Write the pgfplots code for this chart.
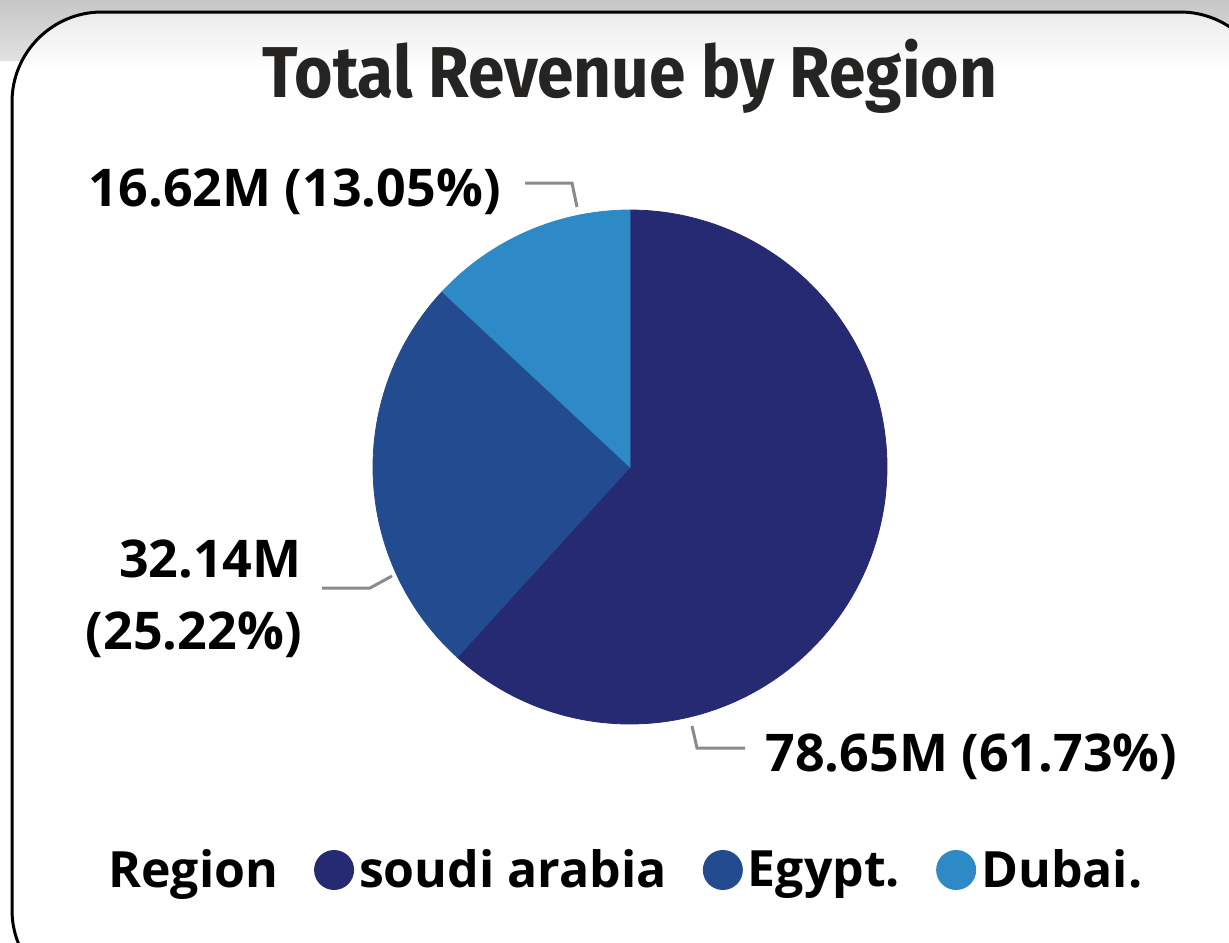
\documentclass[border=0pt]{standalone}
\usepackage{pgfplots}
\usepackage{pgfplotstable}
\pgfplotsset{compat=1.18}
\usepackage{fontspec}
\setmainfont{Open Sans}
\newfontfamily\titlefont{Fira Sans}

\definecolor{saudi}{HTML}{262A73}
\definecolor{egypt}{HTML}{234B8F}
\definecolor{dubai}{HTML}{2E8AC6}
\definecolor{titlegray}{HTML}{252423}
\definecolor{leader}{HTML}{8A8A8A}

% revenue by region, millions
\pgfplotstableread{
region value
saudi 78.65
egypt 32.14
dubai 16.62
}\revtable

\begin{document}
\begin{tikzpicture}[x=0.5pt,y=-0.5pt]
\pgfplotstablegetelem{0}{value}\of\revtable \let\va\pgfplotsretval
\pgfplotstablegetelem{1}{value}\of\revtable \let\vb\pgfplotsretval
\pgfplotstablegetelem{2}{value}\of\revtable \let\vc\pgfplotsretval
\pgfmathsetmacro\tot{\va+\vb+\vc}
\pgfmathsetmacro\aone{90-\va/\tot*360}
\pgfmathsetmacro\atwo{\aone-\vb/\tot*360}
\pgfmathsetmacro\athree{\atwo-\vc/\tot*360}

\path[use as bounding box] (0,0) rectangle (1229,942);
\begin{scope}
  \clip (0,0) rectangle (1229,942);
  \shade[top color=black!22, bottom color=black!12] (0,0) rectangle (1229,60);
  \fill[white, rounded corners=45] (12,12) rectangle (1270,1000);
  \begin{scope}
    \clip[rounded corners=45] (12,12) rectangle (1270,1000);
    \shade[top color=black!8, bottom color=white] (12,12) rectangle (1280,70);
  \end{scope}
  \draw[black, line width=1.5pt, rounded corners=45] (12,12) rectangle (1270,1000);
\end{scope}

\node[anchor=base, inner sep=0pt, text=titlegray]
  at (630,97) {\titlefont\bfseries\fontsize{36}{40}\selectfont
  \scalebox{0.915}[1]{Total Revenue by Region}};

\coordinate (pc) at (630,467);
\begin{axis}[
  at={(pc)}, anchor=origin,
  x=128.5pt, y=128.5pt,
  xmin=-1, xmax=1, ymin=-1, ymax=1,
  hide axis, clip=false,
  legend columns=-1,
  legend style={draw=none, fill=none, at={(0.486,-0.284)}, anchor=center,
    font=\bfseries\fontsize{25}{28}\selectfont,
    nodes={inner xsep=0pt, inner ysep=2pt},
    /tikz/every odd column/.append style={column sep=2.5pt},
    /tikz/every even column/.append style={column sep=18pt}},
  legend image code/.code={\fill[draw=none] (10pt,0pt) circle (10pt);},
]
\addlegendimage{empty legend}
\addlegendentry{Region\hspace{7.5pt}}
\addlegendimage{fill=saudi, draw=none}
\addlegendentry{soudi arabia}
\addlegendimage{fill=egypt, draw=none}
\addlegendentry{Egypt.}
\addlegendimage{fill=dubai, draw=none}
\addlegendentry{Dubai.}

\addplot[fill=saudi, draw=saudi, domain=\aone:90, samples=150, variable=\t]
  ({cos(\t)},{sin(\t)}) -- (axis cs:0,0) -- cycle;
\addplot[fill=egypt, draw=egypt, domain=\atwo:\aone, samples=80, variable=\t]
  ({cos(\t)},{sin(\t)}) -- (axis cs:0,0) -- cycle;
\addplot[fill=dubai, draw=dubai, domain=\athree:\atwo, samples=50, variable=\t]
  ({cos(\t)},{sin(\t)}) -- (axis cs:0,0) -- cycle;
\end{axis}

% leader lines
\draw[leader, line width=1.5pt] (525,183) -- (572,183) -- (577,207);
\draw[leader, line width=1.5pt] (322,588) -- (370,588) -- (392,576);
\draw[leader, line width=1.5pt] (692,726) -- (697,748) -- (745,748);

% data labels
\begin{scope}[every node/.style={inner sep=0pt, font=\bfseries\fontsize{26}{30}\selectfont}]
\node[anchor=base east] at (501,206) {16.62M (13.05\%)};
\node[anchor=base east] at (302,577) {32.14M};
\node[anchor=base east] at (302,649) {(25.22\%)};
\node[anchor=base west] at (765,771) {78.65M (61.73\%)};
\end{scope}
\end{tikzpicture}
\end{document}
